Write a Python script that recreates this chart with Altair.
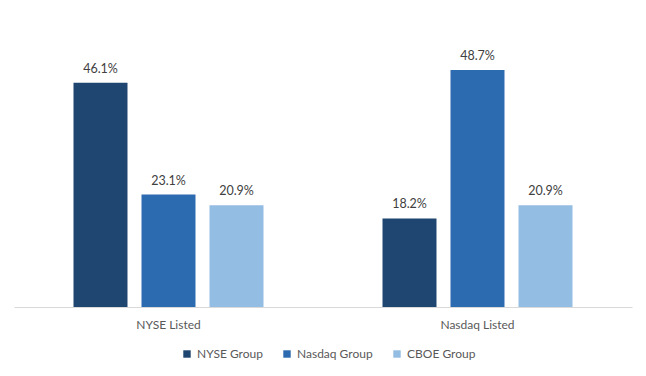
import altair as alt
import pandas as pd

categories = ["NYSE Listed", "Nasdaq Listed"]
series = ["NYSE Group", "Nasdaq Group", "CBOE Group"]
nyse_group = [46.1, 18.2]
nasdaq_group = [23.1, 48.7]
cboe_group = [20.9, 20.9]
colors = ["#1F4670", "#2C6BB0", "#94BDE3"]

rows = []
for i, c in enumerate(categories):
    for s, vals in zip(series, [nyse_group, nasdaq_group, cboe_group]):
        rows.append({"category": c, "series": s, "value": vals[i],
                     "label": f"{vals[i]:.1f}%"})
df = pd.DataFrame(rows)

x = alt.X("category:N", sort=categories,
          scale=alt.Scale(paddingInner=0, paddingOuter=0),
          axis=alt.Axis(title=None, labelAngle=0, ticks=False, domainColor="#D9D9D9",
                        domainWidth=1, labelFontSize=12, labelColor="#595959",
                        labelFont="Lato", labelPadding=12))
xo = alt.XOffset("series:N", sort=series,
                 scale=alt.Scale(paddingInner=0.206, paddingOuter=0.875))
y = alt.Y("value:Q", scale=alt.Scale(domain=[0, 60]), axis=None)

bars = alt.Chart(df).mark_bar().encode(
    x=x, xOffset=xo, y=y,
    color=alt.Color("series:N", sort=series,
                    scale=alt.Scale(domain=series, range=colors),
                    legend=alt.Legend(title=None, orient="none", direction="horizontal",
                                      legendX=167, legendY=333, symbolType="square",
                                      symbolSize=55, symbolStrokeWidth=0,
                                      labelFontSize=12, labelColor="#595959",
                                      labelFont="Lato", columnPadding=18,
                                      symbolOffset=0)),
)
text = alt.Chart(df).mark_text(dy=-14, fontSize=12.5, color="#404040", font="Lato").encode(
    x=x, xOffset=xo, y=y, text="label:N"
)

chart = (bars + text).properties(
    width=618, height=292,
    autosize=alt.AutoSizeParams(type="none"),
    padding={"left": 6, "top": 7, "right": 6, "bottom": 53},
).configure_view(stroke=None)

chart.save("out.html", embed_options={"renderer": "svg", "actions": False})
